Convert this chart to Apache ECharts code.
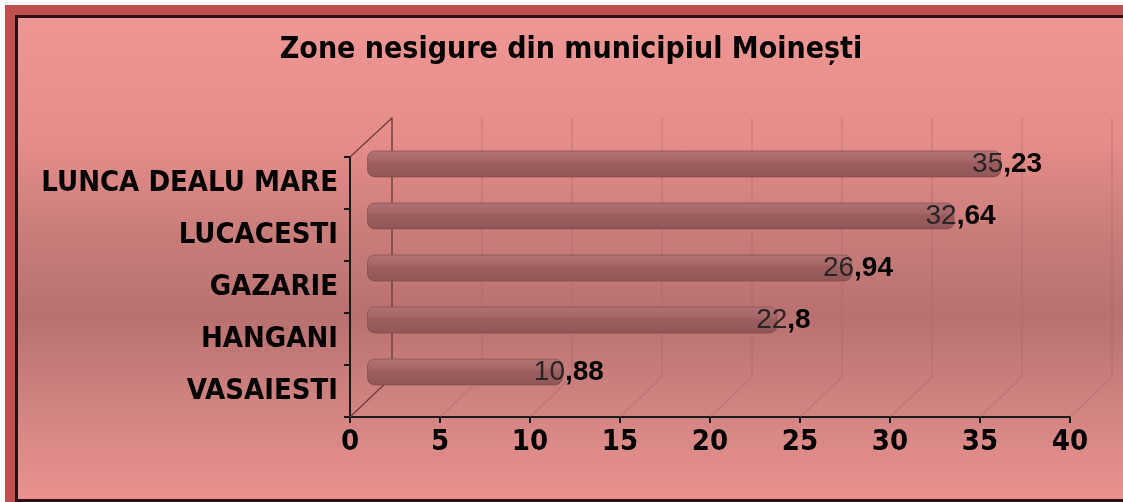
<!DOCTYPE html>
<html>
<head>
<meta charset="utf-8">
<script src="https://cdn.jsdelivr.net/npm/echarts@6/dist/echarts.min.js"></script>
<style>
  html, body { margin: 0; padding: 0; background: #fff; }
  #main { width: 1123px; height: 502px; }
</style>
</head>
<body>
<div id="main"></div>
<script>
var zones = ['LUNCA DEALU MARE', 'LUCACESTI', 'GAZARIE', 'HANGANI', 'VASAIESTI'];
var values = [35.23, 32.64, 26.94, 22.8, 10.88];
var xTicks = [0, 5, 10, 15, 20, 25, 30, 35, 40];

var narrow = '"DejaVu Sans Condensed", "Liberation Sans", sans-serif';
var chart = echarts.init(document.getElementById('main'));

// eticheta valorii: partea intreaga subtire, zecimalele ingrosate (ca in Excel)
function valueLabel(p) {
  var s = String(p.value).replace('.', ',');
  var i = s.indexOf(',');
  if (i < 0) return '{a|' + s + '}';
  return '{a|' + s.slice(0, i) + '}{b|' + s.slice(i) + '}';
}

var option = {
  backgroundColor: '#fff',
  animation: false,
  title: {
    text: 'Zone nesigure din municipiul Moinești',
    left: 566,
    textAlign: 'center',
    top: 30,
    textStyle: { fontFamily: narrow, fontWeight: 'bold', fontSize: 30, color: '#000' }
  },
  grid: [
    { left: 350, right: 53, top: 157, bottom: 85 },   // fata
    { left: 392, right: 11, top: 118, bottom: 125 },  // peretele din spate
    { left: 367, right: 36, top: 138, bottom: 104 }   // barele
  ],
  xAxis: [
    {
      gridIndex: 0, type: 'value', min: 0, max: 40, interval: 5,
      axisLine: { show: true, lineStyle: { color: '#1a1a1a', width: 2 } },
      axisTick: { show: true, length: 6, lineStyle: { color: '#1a1a1a', width: 2 } },
      splitLine: { show: false },
      axisLabel: { margin: 11, fontFamily: narrow, fontWeight: 'bold', fontSize: 29, color: '#000' }
    },
    {
      gridIndex: 1, type: 'value', min: 0, max: 40, interval: 5,
      axisLine: { show: false }, axisTick: { show: false }, axisLabel: { show: false },
      splitLine: { show: true, lineStyle: { color: 'rgba(170,100,100,0.4)', width: 1.5 } }
    },
    {
      gridIndex: 2, type: 'value', min: 0, max: 40, show: false
    }
  ],
  yAxis: [
    {
      gridIndex: 0, type: 'category', data: zones, inverse: true,
      axisLine: { show: true, lineStyle: { color: '#1a1a1a', width: 2 } },
      axisTick: { show: true, length: 6, lineStyle: { color: '#1a1a1a', width: 2 } },
      axisLabel: { margin: 12, fontFamily: narrow, fontWeight: 'bold', fontSize: 29, color: '#000' }
    },
    {
      gridIndex: 1, type: 'category', data: zones, inverse: true,
      axisLine: { show: true, lineStyle: { color: '#7a4444', width: 1.5 } },
      axisTick: { show: false }, axisLabel: { show: false }
    },
    {
      gridIndex: 2, type: 'category', data: zones, inverse: true, show: false
    }
  ],
  series: [{
    type: 'bar',
    xAxisIndex: 2,
    yAxisIndex: 2,
    data: values,
    barWidth: 27,
    itemStyle: {
      borderRadius: 7,
      color: new echarts.graphic.LinearGradient(0, 0, 0, 1, [
        { offset: 0, color: '#b07272' },
        { offset: 0.35, color: '#a66868' },
        { offset: 0.5, color: '#9a5c5c' },
        { offset: 0.75, color: '#985b5b' },
        { offset: 1, color: '#8e5454' }
      ]),
      borderColor: 'rgba(130,70,70,0.6)',
      borderWidth: 1
    },
    label: {
      show: true,
      position: ['100%', '50%'],
      align: 'center',
      verticalAlign: 'middle',
      offset: [6, 0],
      formatter: valueLabel,
      rich: {
        a: { fontFamily: '"Liberation Sans", Arial, sans-serif', fontSize: 28, color: '#2a2424' },
        b: { fontFamily: '"Liberation Sans", Arial, sans-serif', fontSize: 28, fontWeight: 'bold', color: '#000' }
      }
    }
  }]
};
chart.setOption(option);

function gridRect(i) {
  return chart.getModel().getComponent('grid', i).coordinateSystem.getRect();
}

// rama, fundalul si muchiile 3D, calculate din axe
function frame() {
  var els = [
    { type: 'rect', z: -100, shape: { x: 5, y: 5, width: 1130, height: 497 }, style: { fill: '#c0504d' } },
    { type: 'rect', z: -99, shape: { x: 15, y: 15, width: 1130, height: 487 }, style: { fill: '#2a1010' } },
    { type: 'rect', z: -98, shape: { x: 18, y: 18, width: 1130, height: 481 },
      style: {
        fill: new echarts.graphic.LinearGradient(0, 0, 0, 1, [
          { offset: 0, color: '#ee9693' },
          { offset: 0.25, color: '#e68d8a' },
          { offset: 0.45, color: '#c97d7b' },
          { offset: 0.62, color: '#b87170' },
          { offset: 0.8, color: '#d08381' },
          { offset: 1, color: '#ea9290' }
        ])
      }
    }
  ];
  var f = gridRect(0), b = gridRect(1);
  var fy0 = f.y, fy1 = f.y + f.height, by0 = b.y, by1 = b.y + b.height;
  els.push({ type: 'line', z: 5, shape: { x1: f.x, y1: fy0, x2: b.x, y2: by0 },
    style: { stroke: '#6a3a3a', lineWidth: 1.2 } });
  xTicks.forEach(function (t, k) {
    var fx = chart.convertToPixel({ gridIndex: 0 }, [t, 0])[0];
    var bx = chart.convertToPixel({ gridIndex: 1 }, [t, 0])[0];
    els.push({ type: 'line', z: 1, shape: { x1: fx, y1: fy1, x2: bx, y2: by1 },
      style: { stroke: k === 0 ? '#6a3a3a' : 'rgba(170,100,100,0.4)', lineWidth: k === 0 ? 1.2 : 1.5 } });
  });
  chart.setOption({ graphic: { elements: els } });
}
frame();
</script>
</body>
</html>
